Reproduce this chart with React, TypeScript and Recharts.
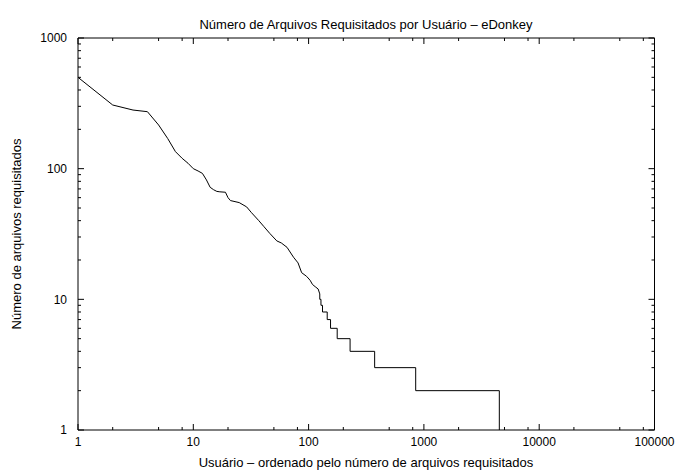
import React from 'react';
import { LineChart, Line, XAxis, YAxis } from 'recharts';

// Rank of user (ordered by number of requested files)
const ranks = [
  1, 2, 3, 4, 5, 6, 7, 8, 9, 10, 11, 12, 13, 14, 15, 16, 17,
  19, 20, 21, 25, 29, 32, 37, 41, 46, 53, 58, 65, 74, 81, 87, 96, 103, 108, 114, 121,
  125, 125, 128, 128, 132, 132, 145, 145, 155, 155, 177, 177, 229, 229, 374, 374, 849, 849, 4510, 4510,
];
// Number of requested files
const files = [
  500, 307, 281, 273, 216, 170, 135, 120, 110, 100, 96, 92, 82, 72, 69, 67, 66.5,
  66, 60, 57, 55, 51, 46, 40, 36, 32, 28, 27, 25, 21, 19, 16, 15, 14, 13, 12.5, 12,
  11, 10, 10, 9, 9, 8, 8, 7, 7, 6, 6, 5, 5, 4, 4, 3, 3, 2, 2, 1,
];

const xMajorTicks = [1, 10, 100, 1000, 10000, 100000];
const xMinorTicks = [2, 5, 8, 20, 50, 80, 200, 500, 800, 2000, 5000, 8000, 20000, 50000, 80000];
const yMajorTicks = [1, 10, 100, 1000];
const yMinorTicks = [
  2, 3, 4, 5, 6, 7, 8, 9,
  20, 30, 40, 50, 60, 70, 80, 90,
  200, 300, 400, 500, 600, 700, 800, 900,
];

const title = 'Número de Arquivos Requisitados por Usuário – eDonkey';
const xTitle = 'Usuário – ordenado pelo número de arquivos requisitados';
const yTitle = 'Número de arquivos requisitados';

const data = ranks.map((r, i) => ({ rank: r, files: files[i] }));
const xTicks = [...xMajorTicks, ...xMinorTicks].sort((a, b) => a - b);
const yTicks = [...yMajorTicks, ...yMinorTicks].sort((a, b) => a - b);

const FONT = '"Liberation Sans", Arial, Helvetica, sans-serif';
const MAJOR = 6;
const MINOR = 3;

const XTick = (props: any) => {
  const { x, y, payload, orientation } = props;
  const v = payload.value;
  const major = xMajorTicks.includes(v);
  const len = major ? MAJOR : MINOR;
  const dir = orientation === 'top' ? 1 : -1;
  return (
    <g>
      <line x1={x} y1={y} x2={x} y2={y + dir * len} stroke="#000" strokeWidth={1} />
      {major && orientation !== 'top' && (
        <text x={x} y={y + 16} textAnchor="middle" fontSize={12} fontFamily={FONT} fill="#000">
          {String(v)}
        </text>
      )}
    </g>
  );
};

const YTick = (props: any) => {
  const { x, y, payload, orientation } = props;
  const v = payload.value;
  const major = yMajorTicks.includes(v);
  const len = major ? MAJOR : MINOR;
  const dir = orientation === 'right' ? -1 : 1;
  return (
    <g>
      <line x1={x} y1={y} x2={x + dir * len} y2={y} stroke="#000" strokeWidth={1} />
      {major && orientation !== 'right' && (
        <text x={x - 11} y={y} dy="0.36em" textAnchor="end" fontSize={12} fontFamily={FONT} fill="#000">
          {String(v)}
        </text>
      )}
    </g>
  );
};

const axisCommon = {
  type: 'number' as const,
  scale: 'log' as const,
  allowDataOverflow: true,
  interval: 0 as const,
  tickSize: 0,
  tickMargin: 0,
  tickLine: false,
  axisLine: { stroke: '#000', strokeWidth: 1 },
};

export default function App() {
  const W = 678;
  const H = 471;
  return (
    <div style={{ position: 'absolute', left: 0, top: 0, width: W, height: H, background: '#fff' }}>
      <LineChart width={W} height={H} data={data} margin={{ top: 37, right: 22.5, bottom: 40, left: 77 }}>
        <XAxis
          {...axisCommon}
          xAxisId="b"
          dataKey="rank"
          domain={[1, 100000]}
          ticks={xTicks}
          height={1}
          tick={(p: any) => <XTick {...p} />}
        />
        <XAxis
          {...axisCommon}
          xAxisId="t"
          orientation="top"
          dataKey="rank"
          domain={[1, 100000]}
          ticks={xTicks}
          height={1}
          tick={(p: any) => <XTick {...p} />}
        />
        <YAxis
          {...axisCommon}
          yAxisId="l"
          dataKey="files"
          domain={[1, 1000]}
          ticks={yTicks}
          width={1}
          tick={(p: any) => <YTick {...p} />}
        />
        <YAxis
          {...axisCommon}
          yAxisId="r"
          orientation="right"
          dataKey="files"
          domain={[1, 1000]}
          ticks={yTicks}
          width={1}
          tick={(p: any) => <YTick {...p} />}
        />
        <Line
          xAxisId="b"
          yAxisId="l"
          type="linear"
          dataKey="files"
          stroke="#000"
          strokeWidth={1}
          dot={false}
          isAnimationActive={false}
        />
        <Line
          xAxisId="t"
          yAxisId="r"
          type="linear"
          dataKey="files"
          stroke="none"
          strokeWidth={0}
          dot={false}
          legendType="none"
          isAnimationActive={false}
        />
      </LineChart>
      <svg
        width={W}
        height={H}
        style={{ position: 'absolute', left: 0, top: 0, pointerEvents: 'none' }}
      >
        <text x={366} y={29} textAnchor="middle" fontSize={13} fontFamily={FONT} fill="#000">
          {title}
        </text>
        <text x={366} y={467} textAnchor="middle" fontSize={13} fontFamily={FONT} fill="#000">
          {xTitle}
        </text>
        <text
          x={0}
          y={0}
          textAnchor="middle"
          fontSize={13}
          fontFamily={FONT}
          fill="#000"
          transform={`translate(21, 234) rotate(-90)`}
        >
          {yTitle}
        </text>
      </svg>
    </div>
  );
}
